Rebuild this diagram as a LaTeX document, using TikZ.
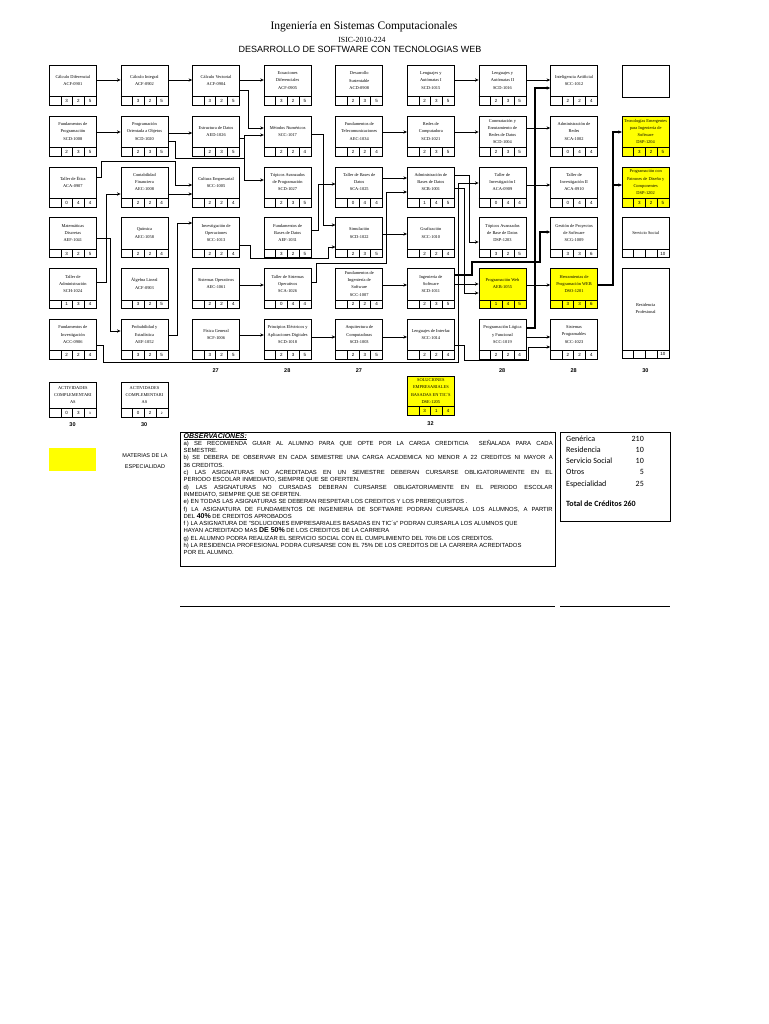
\documentclass[tikz,border=0pt]{standalone}
\usepackage{fontspec}
\setmainfont{Liberation Serif}
\setsansfont{Liberation Sans}
\newfontfamily\carl{Carlito}
\usetikzlibrary{arrows.meta,calc}
\definecolor{espyel}{RGB}{255,255,0}
\tikzset{
  crsbox/.style={draw,line width=0.7pt,minimum width=47pt,anchor=north west,inner sep=0pt},
  crstxt/.style={font=\rmfamily\fontsize{4.4}{7.2}\selectfont,align=center,inner sep=0pt},
  numtxt/.style={font=\sffamily\fontsize{4.5}{5}\selectfont,inner sep=0pt},
  cellln/.style={line width=0.5pt},
  conn/.style={line width=0.6pt,-{Stealth[length=3.6pt,width=3.2pt]}},
  bconn/.style={line width=1.3pt,-{Stealth[length=3.6pt,width=3.4pt]}},
  lnk/.style={line width=0.6pt},
  tot/.style={font=\sffamily\bfseries\fontsize{5.5}{6}\selectfont,inner sep=0pt},
  ctab/.style={font=\carl\fontsize{8}{9}\selectfont,inner sep=0pt},
}
\newcommand\crs[9]{%
  \node[crsbox,minimum height=#4pt,fill=#9] (#1) at (#2,#3) {};
  \node[crstxt] (#1t) at ($(#1.north)+(0,{(#4-9)/2})$) {#5};
  \draw[cellln] ($(#1.south west)+(0,-9)$) -- ($(#1.south east)+(0,-9)$);
  \foreach \k in {1,2,3}{\draw[cellln] ($(#1.south west)+(\k*11.75,0)$) -- ++(0,-9);}
  \node[numtxt] (#1a) at ($(#1.south west)+(17.6,-4.5)$) {#6};
  \node[numtxt] (#1b) at ($(#1.south west)+(29.4,-4.5)$) {#7};
  \node[numtxt] (#1c) at ($(#1.south west)+(41.1,-4.5)$) {#8};
}
\begin{document}
\begin{tikzpicture}[x=1pt,y=-1pt]
\useasboundingbox (0,0) rectangle (768,1024);
\fill[white] (0,0) rectangle (768,1024);

% titles
\node[font=\rmfamily\fontsize{11.5}{13}\selectfont,inner sep=0pt] (tit) at (364,27) {Ingeniería en Sistemas Computacionales};
\node[font=\rmfamily\fontsize{7.8}{9}\selectfont,inner sep=0pt] (isic) at (362,40) {ISIC-2010-224};
\node[font=\sffamily\fontsize{9}{10}\selectfont,inner sep=0pt] (sub) at (360,49.5) {DESARROLLO DE SOFTWARE CON TECNOLOGIAS WEB};

% row 1
\crs{cd}{49}{65}{40}{Cálculo Diferencial\\ACF-0901}{3}{2}{5}{white}
\crs{ci}{120.6}{65}{40}{Cálculo Integral\\ACF-0902}{3}{2}{5}{white}
\crs{cv}{192.2}{65}{40}{Cálculo Vectorial\\ACF-0904}{3}{2}{5}{white}
\crs{edf}{263.8}{65}{40}{Ecuaciones\\Diferenciales\\ACF-0905}{3}{2}{5}{white}
\crs{ds}{335.4}{65}{40}{Desarrollo\\Sustentable\\ACD-0908}{2}{3}{5}{white}
\crs{la1}{407}{65}{40}{Lenguajes y\\Autómatas I\\SCD-1015}{2}{3}{5}{white}
\crs{la2}{478.6}{65}{40}{Lenguajes y\\Autómatas II\\SCD-1016}{2}{3}{5}{white}
\crs{ia}{550.2}{65}{40}{Inteligencia Artificial\\SCC-1012}{2}{2}{4}{white}
\node[crsbox,minimum height=32pt,fill=white] (emp) at (621.8,65) {};

% row 2
\crs{fp}{49}{115.8}{40}{Fundamentos de\\Programación\\SCD-1008}{2}{3}{5}{white}
\crs{poo}{120.6}{115.8}{40}{Programación\\Orientada a Objetos\\SCD-1020}{2}{3}{5}{white}
\crs{ed}{192.2}{115.8}{40}{Estructura de Datos\\AED-1026}{2}{3}{5}{white}
\crs{mn}{263.8}{115.8}{40}{Métodos Numéricos\\SCC-1017}{2}{2}{4}{white}
\crs{ft}{335.4}{115.8}{40}{Fundamentos de\\Telecomunicaciones\\AEC-1034}{2}{2}{4}{white}
\crs{rc}{407}{115.8}{40}{Redes de\\Computadora\\SCD-1021}{2}{3}{5}{white}
\crs{cer}{478.6}{115.8}{40}{Conmutación y\\Enrutamiento de\\Redes de Datos\\SCD-1004}{2}{3}{5}{white}
\crs{ar}{550.2}{115.8}{40}{Administración de\\Redes\\SCA-1002}{0}{4}{4}{white}
\crs{tem}{621.8}{115.8}{40}{Tecnologías Emergentes\\para Ingeniería de\\Software\\DSP-1204}{3}{2}{5}{espyel}

% row 3
\crs{te}{49}{166.6}{40}{Taller de Ética\\ACA-0907}{0}{4}{4}{white}
\crs{cf}{120.6}{166.6}{40}{Contabilidad\\Financiera\\AEC-1008}{2}{2}{4}{white}
\crs{ce}{192.2}{166.6}{40}{Cultura Empresarial\\SCC-1005}{2}{2}{4}{white}
\crs{tap}{263.8}{166.6}{40}{Tópicos Avanzados\\de Programación\\SCD-1027}{2}{3}{5}{white}
\crs{tbd}{335.4}{166.6}{40}{Taller de Bases de\\Datos\\SCA-1025}{0}{4}{4}{white}
\crs{abd}{407}{166.6}{40}{Administración de\\Bases de Datos\\SCB-1001}{1}{4}{5}{white}
\crs{ti1}{478.6}{166.6}{40}{Taller de\\Investigación I\\ACA-0909}{0}{4}{4}{white}
\crs{ti2}{550.2}{166.6}{40}{Taller de\\Investigación II\\ACA-0910}{0}{4}{4}{white}
\crs{ppd}{621.8}{166.6}{40}{Programación con\\Patrones de Diseño y\\Componentes\\DSP-1202}{3}{2}{5}{espyel}

% row 4
\crs{md}{49}{217.4}{40}{Matemáticas\\Discretas\\AEF-1041}{3}{2}{5}{white}
\crs{qu}{120.6}{217.4}{40}{Química\\AEC-1058}{2}{2}{4}{white}
\crs{io}{192.2}{217.4}{40}{Investigación de\\Operaciones\\SCC-1013}{2}{2}{4}{white}
\crs{fbd}{263.8}{217.4}{40}{Fundamentos de\\Bases de Datos\\AEF-1031}{3}{2}{5}{white}
\crs{sim}{335.4}{217.4}{40}{Simulación\\SCD-1022}{2}{3}{5}{white}
\crs{gra}{407}{217.4}{40}{Graficación\\SCC-1010}{2}{2}{4}{white}
\crs{tabd}{478.6}{217.4}{40}{Tópicos Avanzados\\de Base de Datos\\DSP-1203}{3}{2}{5}{white}
\crs{gps}{550.2}{217.4}{40}{Gestión de Proyectos\\de Software\\SCG-1009}{3}{3}{6}{white}
\crs{ss}{621.8}{217.4}{40}{Servicio Social}{}{}{10}{white}

% row 5
\crs{ta}{49}{268.2}{40}{Taller de\\Administración\\SCH-1024}{1}{3}{4}{white}
\crs{al}{120.6}{268.2}{40}{Álgebra Lineal\\ACF-0903}{3}{2}{5}{white}
\crs{so}{192.2}{268.2}{40}{Sistemas Operativos\\AEC-1061}{2}{2}{4}{white}
\crs{tso}{263.8}{268.2}{40}{Taller de Sistemas\\Operativos\\SCA-1026}{0}{4}{4}{white}
\crs{fis}{335.4}{268.2}{40}{Fundamentos de\\Ingeniería de\\Software\\SCC-1007}{2}{2}{4}{white}
\crs{is}{407}{268.2}{40}{Ingeniería de\\Software\\SCD-1011}{2}{3}{5}{white}
\crs{pw}{478.6}{268.2}{40}{Programación Web\\AEB-1055}{1}{4}{5}{espyel}
\crs{hpw}{550.2}{268.2}{40}{Herramientas de\\Programación WEB\\DSO-1201}{3}{3}{6}{espyel}
\crs{rp}{621.8}{268.2}{90}{Residencia\\Profesional}{}{}{10}{white}

% row 6
\crs{fi}{49}{319}{40}{Fundamentos de\\Investigación\\ACC-0906}{2}{2}{4}{white}
\crs{pye}{120.6}{319}{40}{Probabilidad y\\Estadística\\AEF-1052}{3}{2}{5}{white}
\crs{fg}{192.2}{319}{40}{Física General\\SCF-1006}{3}{2}{5}{white}
\crs{pe}{263.8}{319}{40}{Principios Eléctricos y\\Aplicaciones Digitales\\SCD-1018}{2}{3}{5}{white}
\crs{ac}{335.4}{319}{40}{Arquitectura de\\Computadoras\\SCD-1003}{2}{3}{5}{white}
\crs{li}{407}{319}{40}{Lenguajes de Interfaz\\SCC-1014}{2}{2}{4}{white}
\crs{plf}{478.6}{319}{40}{Programación Lógica\\y Funcional\\SCC-1019}{2}{2}{4}{white}
\crs{sp}{550.2}{319}{40}{Sistemas\\Programables\\SCC-1023}{2}{2}{4}{white}

% row 7
\crs{ac1}{49}{382}{35}{ACTIVIDADES\\COMPLEMENTARI\\AS}{0}{3}{\fontsize{3.2}{4}\selectfont 3}{white}
\crs{ac2}{120.6}{382}{35}{ACTIVIDADES\\COMPLEMENTARI\\AS}{0}{2}{\fontsize{3.2}{4}\selectfont 2}{white}
\crs{sol}{407}{376}{39}{SOLUCIONES\\EMPRESARIALES\\BASADAS EN TIC´S\\DSE-1205}{3}{1}{4}{espyel}

% totals
\node[tot] (t3) at (215.7,371) {27};
\node[tot] (t4) at (287.3,371) {28};
\node[tot] (t5) at (358.9,371) {27};
\node[tot] (t7) at (502.1,371) {28};
\node[tot] (t8) at (573.7,371) {28};
\node[tot] (t9) at (645.3,371) {30};
\node[tot] (t1) at (72.5,425) {30};
\node[tot] (t2) at (144.1,425) {30};
\node[tot] (t6) at (430.5,424) {32};

% connectors: straight
\draw[conn] (cd.east |- 0,80) -- (ci.west |- 0,80);
\draw[conn] (ci.east |- 0,80) -- (cv.west |- 0,80);
\draw[conn] (cv.east |- 0,80) -- (edf.west |- 0,80);
\draw[conn] (la1.east |- 0,80) -- (la2.west |- 0,80);
\draw[conn] (la2.east |- 0,80) -- (ia.west |- 0,80);
\draw[conn] (fp.east |- 0,132) -- (poo.west |- 0,132);
\draw[conn] (poo.east |- 0,133) -- (ed.west |- 0,133);
\draw[conn] (ft.east |- 0,132) -- (rc.west |- 0,132);
\draw[conn] (rc.east |- 0,132) -- (cer.west |- 0,132);
\draw[conn] (cer.east |- 0,128) -- (ar.west |- 0,128);
\draw[conn] (cf.east |- 0,194) -- (ce.west |- 0,194);
\draw[conn] (tbd.east |- 0,178) -- (abd.west |- 0,178);
\draw[conn] (ti1.east |- 0,185) -- (ti2.west |- 0,185);
\draw[conn] (sim.east |- 0,234) -- (gra.west |- 0,234);
\draw[conn] (so.east |- 0,285) -- (tso.west |- 0,285);
\draw[conn] (fis.east |- 0,285) -- (is.west |- 0,285);
\draw[conn] (is.east |- 0,284) -- (pw.west |- 0,284);
\draw[conn] (pw.east |- 0,285) -- (hpw.west |- 0,285);
\draw[conn] (fg.east |- 0,335) -- (pe.west |- 0,335);
\draw[conn] (pe.east |- 0,337) -- (ac.west |- 0,337);
\draw[conn] (ac.east |- 0,337) -- (li.west |- 0,337);
\draw[conn] (plf.east |- 0,337) -- (sp.west |- 0,337);

% connectors: elbows
\draw[conn] (cv.east |- 0,90) -- (248,90) |- (mn.west |- 0,128);
\draw[conn] (ed.east |- 0,138) -- (244,138) |- (mn.west |- 0,135);
\draw[conn] (ed.east |- 0,138) -- (244,138) |- (tap.west |- 0,180);
\draw[lnk] (poo.east |- 0,141) -- (175,141) -- (175,158) -- (244,158);
\draw[conn] (te.east |- 0,177) -- (101,177) -- (101,161) -- (175,161) |- (ce.west |- 0,185);
\draw[conn] (ta.east |- 0,282) -- (106,282) |- (cf.west |- 0,194);
\draw[conn] (md.east |- 0,238) -- (110,238) |- (pye.west |- 0,331);
\draw[conn] (pye.east |- 0,335) -- (177,335) |- (io.west |- 0,223);
\draw[conn] (io.east |- 0,245) -- (250,245) -- (250,258) -- (328,258) |- (sim.west |- 0,247);
\draw[conn] (mn.east |- 0,134) -- (323,134) |- (sim.west |- 0,225);
\draw[conn] (fbd.east |- 0,230) -- (318,230) |- (tbd.west |- 0,184);
\draw[conn] (tso.east |- 0,282) -- (316,282) -- (316,263) -- (386,263) |- (abd.west |- 0,192);
\draw[conn] (abd.east |- 0,175) -- (469,175) |- (tabd.west |- 0,242);
\draw[conn] (abd.east |- 0,188) -- (464,188) |- (pw.west |- 0,293);
\draw[conn] (fi.east |- 0,345) -- (103,345) -- (103,362) -- (458,362) |- (ti1.west |- 0,183);
\draw[bconn] (is.east |- 0,275) -- (472,275) -- (472,262) -- (540,262) |- (gps.west |- 0,232);
\draw[conn] (li.east |- 0,345) -- (464,345) -- (464,360) -- (528,360) |- (sp.west |- 0,347);
\draw[bconn] (plf.east |- 0,328) -- (535,328) |- (ia.west |- 0,88);
\draw[bconn] (hpw.east |- 0,285) -- (613,285) |- (tem.west |- 0,132);
\draw[bconn] (613,200) |- (ppd.west |- 0,185);

% legend
\node[fill=espyel,minimum width=47pt,minimum height=23pt,anchor=north west,inner sep=0pt] (leg) at (49,448) {};
\node[font=\sffamily\fontsize{5.5}{11.5}\selectfont,align=center,inner sep=0pt] (legt) at (145,461) {MATERIAS DE LA\\ESPECIALIDAD};

% observaciones
\node[draw,line width=0.8pt,minimum width=375pt,minimum height=134pt,anchor=north west,inner sep=0pt] (obsbox) at (180,432) {};
\node[anchor=north west,inner sep=0pt,text width=369pt,align=justify,font=\sffamily\fontsize{5.9}{7.3}\selectfont] (obs) at (183.5,433) {%
{\fontsize{7}{7.3}\selectfont\underline{\textbf{\textit{OBSERVACIONES:}}}}\par
a) SE RECOMIENDA GUIAR AL ALUMNO PARA QUE OPTE POR LA CARGA CREDITICIA \ SEÑALADA PARA CADA\linebreak SEMESTRE.\par
b) SE DEBERA DE OBSERVAR EN CADA SEMESTRE UNA CARGA ACADEMICA NO MENOR A 22 CREDITOS NI MAYOR A\linebreak 36 CREDITOS.\par
c) LAS ASIGNATURAS NO ACREDITADAS EN UN SEMESTRE DEBERAN CURSARSE OBLIGATORIAMENTE EN EL\linebreak PERIODO ESCOLAR INMEDIATO, SIEMPRE QUE SE OFERTEN.\par
d) LAS ASIGNATURAS NO CURSADAS DEBERAN CURSARSE OBLIGATORIAMENTE EN EL PERIODO ESCOLAR\linebreak INMEDIATO, SIEMPRE QUE SE OFERTEN.\par
e) EN TODAS LAS ASIGNATURAS SE DEBERAN RESPETAR LOS CREDITOS Y LOS PREREQUISITOS .\par
f) LA ASIGNATURA DE FUNDAMENTOS DE INGENIERIA DE SOFTWARE PODRAN CURSARLA LOS ALUMNOS, A PARTIR\linebreak DEL {\bfseries\fontsize{7}{7.3}\selectfont 40\%} DE CREDITOS APROBADOS\par
f ) LA ASIGNATURA DE "SOLUCIONES EMPRESARIALES BASADAS EN TIC´s" PODRAN CURSARLA LOS ALUMNOS QUE\\ HAYAN ACREDITADO MAS {\bfseries\fontsize{7}{7.3}\selectfont DE 50\%} DE LOS CREDITOS DE LA CARRERA\par
g) EL ALUMNO PODRA REALIZAR EL SERVICIO SOCIAL CON EL CUMPLIMIENTO DEL 70\% DE LOS CREDITOS.\par
h) LA RESIDENCIA PROFESIONAL PODRA CURSARSE CON EL 75\% DE LOS CREDITOS DE LA CARRERA ACREDITADOS\\ POR EL ALUMNO.};

% credits table
\node[draw,line width=0.6pt,minimum width=110pt,minimum height=89pt,anchor=north west,inner sep=0pt] (crbox) at (560,432) {};
\node[ctab,anchor=west] (g1) at (566,439) {Genérica};
\node[ctab,anchor=east] (g2) at (644,439) {210};
\node[ctab,anchor=west] (r1) at (566,450) {Residencia};
\node[ctab,anchor=east] (r2) at (644,450) {10};
\node[ctab,anchor=west] (s1) at (566,461) {Servicio Social};
\node[ctab,anchor=east] (s2) at (644,461) {10};
\node[ctab,anchor=west] (o1) at (566,472) {Otros};
\node[ctab,anchor=east] (o2) at (644,472) {5};
\node[ctab,anchor=west] (e1) at (566,484) {Especialidad};
\node[ctab,anchor=east] (e2) at (644,484) {25};
\node[ctab,anchor=west,font=\carl\bfseries\fontsize{8}{9}\selectfont] (tc) at (566,504) {Total de Créditos 260};

% signature lines
\draw[line width=1pt] (180,606) -- (555,606);
\draw[line width=1pt] (560,606) -- (670,606);
\end{tikzpicture}
\end{document}
